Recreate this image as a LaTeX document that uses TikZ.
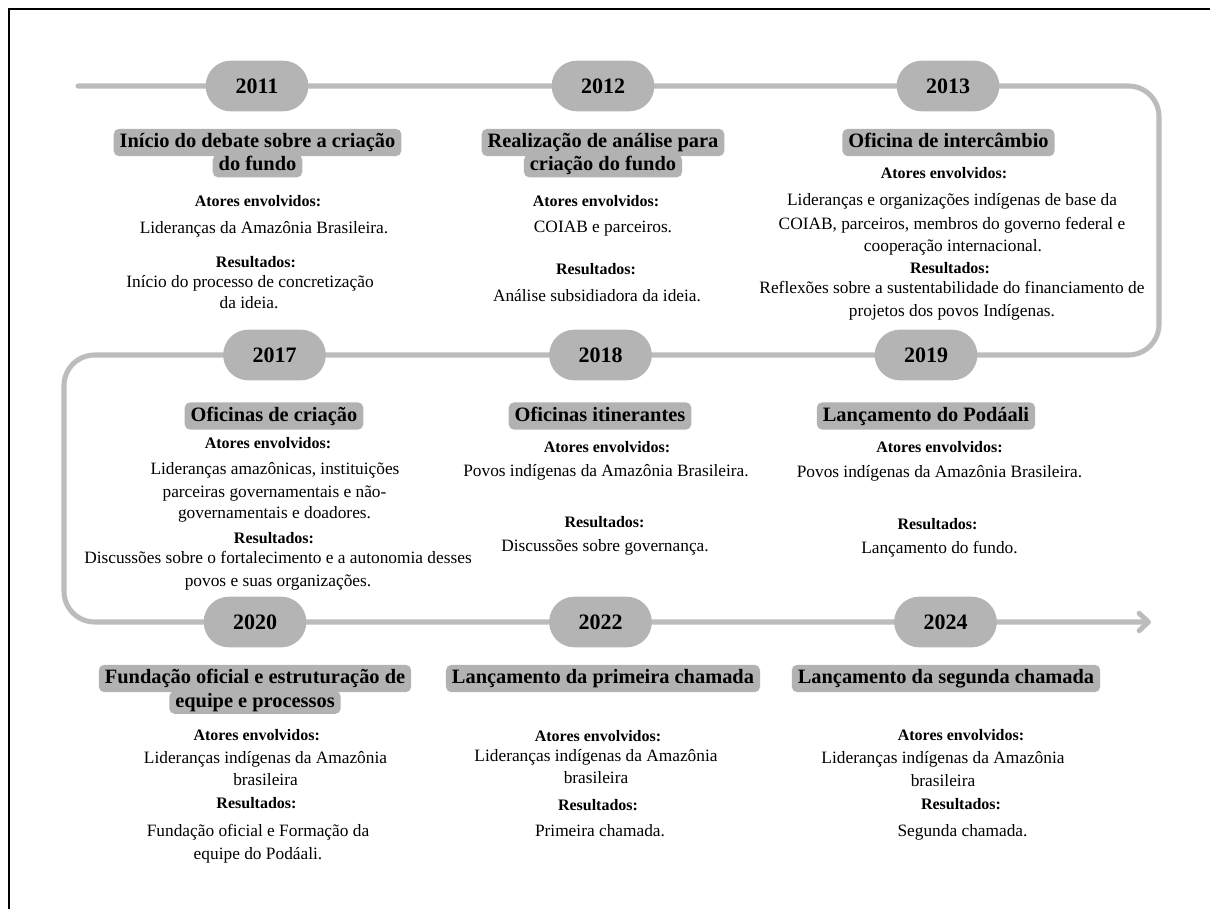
\documentclass[tikz,border=0pt]{standalone}
\usepackage{fontspec}
\setmainfont{Liberation Serif}
\usetikzlibrary{arrows.meta,backgrounds}
\definecolor{linegray}{RGB}{188,188,188}
\definecolor{pillgray}{RGB}{180,180,180}
\definecolor{boxgray}{RGB}{178,178,178}
\begin{document}
\begin{tikzpicture}[x=0.75pt,y=-0.75pt,
  frame/.style={draw=black,line width=0.8pt},
  timeline/.style={draw=linegray,line width=3.8pt,line cap=round,line join=round,rounded corners=23pt},
  yearpill/.style={fill=pillgray,draw=none,rectangle,rounded corners=18.9pt,minimum width=77pt,minimum height=38pt,inner sep=0pt,font=\fontsize{16.5}{18}\selectfont\bfseries},
  ttl/.style={fill=boxgray,draw=none,rectangle,rounded corners=4pt,inner xsep=4.5pt,inner ysep=0pt,minimum height=20.5pt,text height=11pt,text depth=3.5pt,font=\fontsize{15.3}{17}\selectfont\bfseries},
  ttlb/.style={ttl,minimum height=17pt,text height=10.5pt,text depth=3pt},
  lbl/.style={inner sep=0pt,text height=8.5pt,text depth=2.5pt,font=\fontsize{12}{14}\selectfont\bfseries},
  txt/.style={inner sep=0pt,text height=9pt,text depth=3pt,font=\fontsize{13}{15}\selectfont}]
\useasboundingbox (0,0) rectangle (1210,909);
% frame
\coordinate (fTL) at (9,9);
\coordinate (fTR) at (1210,9);
\coordinate (fBL) at (9,909);
\draw[frame] (fTR) -- (fTL) -- (fBL);

% year pills
\node[yearpill] (y2011) at (257,86) {2011};
\node[yearpill] (y2012) at (603,86) {2012};
\node[yearpill] (y2013) at (948,86) {2013};
\node[yearpill] (y2019) at (926,355) {2019};
\node[yearpill] (y2018) at (600.5,355) {2018};
\node[yearpill] (y2017) at (274.5,355) {2017};
\node[yearpill] (y2020) at (255,622) {2020};
\node[yearpill] (y2022) at (600.5,622) {2022};
\node[yearpill] (y2024) at (945.5,622) {2024};

% timeline
\coordinate (tlstart) at (78,86);
\coordinate (cTR) at (1159,86);
\coordinate (cBR) at (1159,355);
\coordinate (cTL) at (64,355);
\coordinate (cBL) at (64,622);
\coordinate (tlend) at (1151,622);
\begin{pgfonlayer}{background}
\draw[timeline,-{Straight Barb[length=7pt,width=13pt,line cap=round,line join=round]}]
  (tlstart) -- (y2011.center) -- (y2012.center) -- (y2013.center) -- (cTR) -- (cBR)
  -- (y2019.center) -- (y2018.center) -- (y2017.center) -- (cTL) -- (cBL)
  -- (y2020.center) -- (y2022.center) -- (y2024.center) -- (tlend);
\end{pgfonlayer}

% ---- 2011
\node[ttl] (t2011a) at (257.5,142.5) {Início do debate sobre a criação};
\node[ttlb] (t2011b) at (257.5,166) {do fundo};
\node[lbl] (a2011) at (258,203) {Atores envolvidos:};
\node[txt] (at2011) at (264,230) {Lideranças da Amazônia Brasileira.};
\node[lbl] (r2011) at (256,264) {Resultados:};
\node[txt] (rt2011a) at (250,283) {Início do processo de concretização};
\node[txt] (rt2011b) at (249,305) {da ideia.};

% ---- 2012
\node[ttl] (t2012a) at (603,142.5) {Realização de análise para};
\node[ttlb] (t2012b) at (603,166) {criação do fundo};
\node[lbl] (a2012) at (596,203) {Atores envolvidos:};
\node[txt] (at2012) at (603,229) {COIAB e parceiros.};
\node[lbl] (r2012) at (596,271) {Resultados:};
\node[txt] (rt2012) at (597,297) {Análise subsidiadora da ideia.};

% ---- 2013
\node[ttl] (t2013) at (948.5,142.5) {Oficina de intercâmbio};
\node[lbl] (a2013) at (944,175) {Atores envolvidos:};
\node[txt] (at2013a) at (952,202) {Lideranças e organizações indígenas de base da};
\node[txt] (at2013b) at (952,226) {COIAB, parceiros, membros do governo federal e};
\node[txt] (at2013c) at (953,248) {cooperação internacional.};
\node[lbl] (r2013) at (950,270) {Resultados:};
\node[txt] (rt2013a) at (952,290) {Reflexões sobre a sustentabilidade do financiamento de};
\node[txt] (rt2013b) at (952,312) {projetos dos povos Indígenas.};

% ---- 2017
\node[ttl] (t2017) at (274,416) {Oficinas de criação};
\node[lbl] (a2017) at (268,444) {Atores envolvidos:};
\node[txt] (at2017a) at (275,470) {Lideranças amazônicas, instituições};
\node[txt] (at2017b) at (274.5,493) {parceiras governamentais e não-};
\node[txt] (at2017c) at (274.5,514) {governamentais e doadores.};
\node[lbl] (r2017) at (274,539) {Resultados:};
\node[txt] (rt2017a) at (278,559) {Discussões sobre o fortalecimento e a autonomia desses};
\node[txt] (rt2017b) at (278,582) {povos e suas organizações.};

% ---- 2018
\node[ttl] (t2018) at (600,416) {Oficinas itinerantes};
\node[lbl] (a2018) at (607,448) {Atores envolvidos:};
\node[txt] (at2018) at (606,472) {Povos indígenas da Amazônia Brasileira.};
\node[lbl] (r2018) at (604.5,523) {Resultados:};
\node[txt] (rt2018) at (605,547) {Discussões sobre governança.};

% ---- 2019
\node[ttl] (t2019) at (926,416) {Lançamento do Podáali};
\node[lbl] (a2019) at (939.5,448) {Atores envolvidos:};
\node[txt] (at2019) at (939.5,473) {Povos indígenas da Amazônia Brasileira.};
\node[lbl] (r2019) at (937.5,525) {Resultados:};
\node[txt] (rt2019) at (939.5,549) {Lançamento do fundo.};

% ---- 2020
\node[ttl] (t2020a) at (255,678.5) {Fundação oficial e estruturação de};
\node[ttlb] (t2020b) at (255,702.5) {equipe e processos};
\node[lbl] (a2020) at (256.7,736) {Atores envolvidos:};
\node[txt] (at2020a) at (265.5,759) {Lideranças indígenas da Amazônia};
\node[txt] (at2020b) at (265.5,781) {brasileira};
\node[lbl] (r2020) at (256.5,804) {Resultados:};
\node[txt] (rt2020a) at (258,832) {Fundação oficial e Formação da};
\node[txt] (rt2020b) at (258,855) {equipe do Podáali.};

% ---- 2022
\node[ttl] (t2022) at (603,678.5) {Lançamento da primeira chamada};
\node[lbl] (a2022) at (598,737) {Atores envolvidos:};
\node[txt] (at2022a) at (596,757) {Lideranças indígenas da Amazônia};
\node[txt] (at2022b) at (596,779) {brasileira};
\node[lbl] (r2022) at (598,806) {Resultados:};
\node[txt] (rt2022) at (600,832) {Primeira chamada.};

% ---- 2024
\node[ttl] (t2024) at (946,678.5) {Lançamento da segunda chamada};
\node[lbl] (a2024) at (961,736) {Atores envolvidos:};
\node[txt] (at2024a) at (943,759) {Lideranças indígenas da Amazônia};
\node[txt] (at2024b) at (943,782) {brasileira};
\node[lbl] (r2024) at (961,805) {Resultados:};
\node[txt] (rt2024) at (962.5,832) {Segunda chamada.};
\end{tikzpicture}
\end{document}
